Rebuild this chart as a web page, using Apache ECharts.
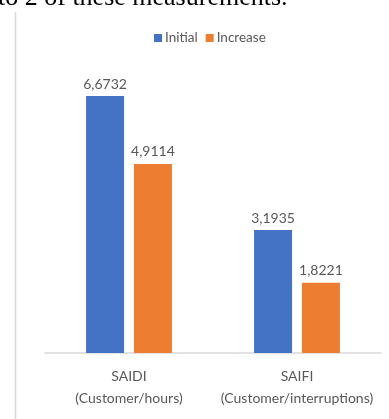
<!DOCTYPE html>
<html>
<head>
<meta charset="utf-8">
<script src="https://cdn.jsdelivr.net/npm/echarts@6/dist/echarts.min.js"></script>
<style>
html,body{margin:0;padding:0;background:#fff;}
#c{width:389px;height:419px;}
</style>
</head>
<body>
<div id="c"></div>
<script>
const categories = ['SAIDI\n(Customer/hours)', 'SAIFI\n(Customer/interruptions)'];
const initialValues = [6.6732, 3.1935];
const increaseValues = [4.9114, 1.8221];
const seriesNames = ['Initial', 'Increase'];

const fmt = v => String(v.value.toFixed(4)).replace('.', ',');
const chart = echarts.init(document.getElementById('c'));
const labelStyle = {
  show: true, position: 'top', distance: 5,
  color: '#595959', fontFamily: 'Lato', fontSize: 14,
  formatter: fmt
};
chart.setOption({
  animation: false,
  backgroundColor: '#fff',
  graphic: [
    { type: 'text', left: -2, top: -15, silent: true,
      style: { text: 'to 2 of these measurements.', font: '26px "Liberation Serif"', fill: '#000' } },
    { type: 'line', silent: true,
      shape: { x1: 15.5, y1: 12, x2: 15.5, y2: 419 },
      style: { stroke: '#d9d9d9', lineWidth: 1.5 } }
  ],
  legend: {
    data: seriesNames,
    left: 149, top: 26,
    icon: 'rect', itemWidth: 8, itemHeight: 8, itemGap: 8,
    textStyle: { color: '#595959', fontFamily: 'Lato', fontSize: 13.5, padding: [0, 0, 0, -2] }
  },
  grid: { left: 45, right: 8, top: 45, bottom: 66, containLabel: false },
  xAxis: {
    type: 'category', data: categories,
    axisLine: { lineStyle: { color: '#d9d9d9', width: 1.5 } },
    axisTick: { show: false },
    axisLabel: { color: '#595959', fontFamily: 'Lato', fontSize: 14, lineHeight: 22, margin: 12, interval: 0 }
  },
  yAxis: { type: 'value', min: 0, max: 8, show: false, splitLine: { show: false } },
  series: [
    { name: seriesNames[0], type: 'bar', data: initialValues, barWidth: 38, barGap: '26%',
      itemStyle: { color: '#4472C4' }, label: labelStyle },
    { name: seriesNames[1], type: 'bar', data: increaseValues, barWidth: 38, barGap: '26%',
      itemStyle: { color: '#ED7D31' }, label: labelStyle }
  ]
});
</script>
</body>
</html>
